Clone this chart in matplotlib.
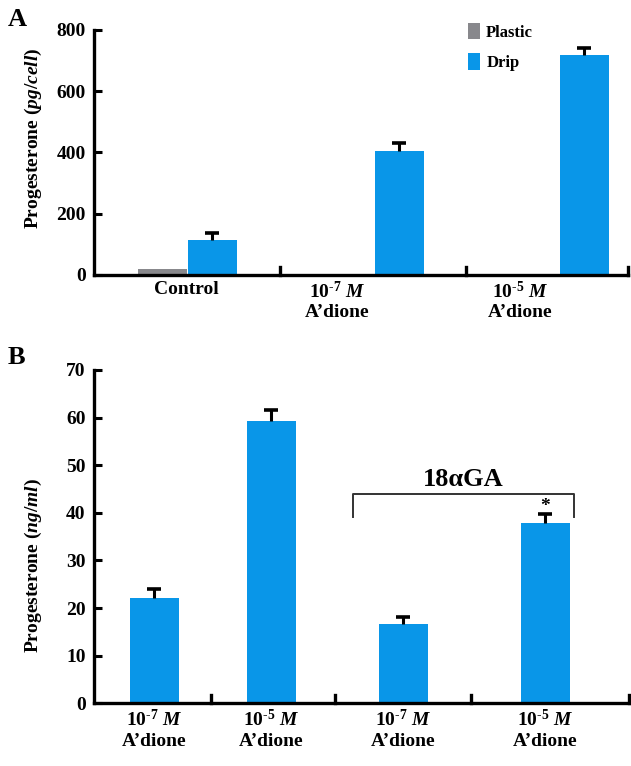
import matplotlib
matplotlib.use("Agg")
import matplotlib.pyplot as plt

plt.rcParams['font.family'] = ['Liberation Serif', 'DejaVu Serif']
plt.rcParams['font.weight'] = 'bold'
plt.rcParams['axes.labelweight'] = 'bold'
plt.rcParams['mathtext.fontset'] = 'custom'
plt.rcParams['mathtext.rm'] = 'Liberation Serif:bold'
plt.rcParams['mathtext.it'] = 'Liberation Serif:bold:italic'
plt.rcParams['mathtext.bf'] = 'Liberation Serif:bold'

BLUE = '#0996E8'
GRAY = '#88888C'

# ---------- Panel A data ----------
a_categories = ['Control', '10$^{\\text{-7}}$ $\\mathit{M}$\nA\u2019dione', '10$^{\\text{-5}}$ $\\mathit{M}$\nA\u2019dione']
a_plastic = [20]
a_drip = [115, 406, 717]
a_drip_err = [21, 25, 25]
a_yticks = [0, 200, 400, 600, 800]

# ---------- Panel B data ----------
b_categories = ['10$^{\\text{-7}}$ $\\mathit{M}$\nA\u2019dione', '10$^{\\text{-5}}$ $\\mathit{M}$\nA\u2019dione',
                '10$^{\\text{-7}}$ $\\mathit{M}$\nA\u2019dione', '10$^{\\text{-5}}$ $\\mathit{M}$\nA\u2019dione']
b_values = [22.2, 59.3, 16.6, 37.9]
b_err = [1.8, 2.2, 1.5, 1.9]
b_yticks = [0, 10, 20, 30, 40, 50, 60, 70]

# positions (in pixel-like axis units)
a_drip_x = [118, 305, 490]
a_plastic_x = [68.5]
a_label_x = [92, 243, 426]
a_sep_x = [186, 372, 534]
bw = 49
cap_half = 7

b_x = [60, 177, 309, 451]
b_sep_x = [116.5, 241, 377, 535]

fig = plt.figure(figsize=(6.31, 7.66), dpi=100)

def style(ax, xmax):
    ax.spines['top'].set_visible(False)
    ax.spines['right'].set_visible(False)
    for s in ('left', 'bottom'):
        ax.spines[s].set_linewidth(2.4)
        ax.spines[s].set_color('black')
    ax.tick_params(axis='y', direction='in', length=6, width=2.2, labelsize=14, pad=6)
    ax.tick_params(axis='x', length=0, labelsize=14, pad=4)
    ax.set_xlim(0, xmax)

def upper_err(ax, xs, vals, errs):
    tops = [v + e for v, e in zip(vals, errs)]
    ax.vlines(xs, vals, tops, colors='black', linewidth=2.2, zorder=3)
    ax.hlines(tops, [x - cap_half for x in xs], [x + cap_half for x in xs],
              colors='black', linewidth=2.6, zorder=3)

# ---------- Panel A ----------
axA = fig.add_axes([94/631, 1-275/766, 534/631, 245/766])
axA.bar(a_plastic_x, a_plastic, width=bw, color=GRAY, label='Plastic', zorder=2)
axA.bar(a_drip_x, a_drip, width=bw, color=BLUE, label='Drip', zorder=2)
upper_err(axA, a_drip_x, a_drip, a_drip_err)
axA.set_ylim(0, 800)
axA.set_yticks(a_yticks)
axA.set_xticks(a_label_x)
axA.set_xticklabels(a_categories)
style(axA, 534)
for xs in a_sep_x:
    axA.plot([xs, xs], [0, 800*8/245], color='black', lw=2.4, clip_on=False, zorder=4)
axA.set_ylabel('Progesterone ($\\mathit{pg/cell}$)', fontsize=14, fontweight='bold')
axA.yaxis.set_label_coords((44-94)/534, (275-138)/245)
leg = axA.legend(loc='upper left', bbox_to_anchor=(0.672, 1.09), frameon=False,
                 fontsize=12, handlelength=0.75, handleheight=1.15, handletextpad=0.35,
                 labelspacing=0.75)
fig.text(8/631, 1-26/766, 'A', fontsize=19, fontweight='bold')

# ---------- Panel B ----------
axB = fig.add_axes([94/631, 1-703.3/766, 535/631, 333.3/766])
axB.bar(b_x, b_values, width=bw, color=BLUE, zorder=2)
upper_err(axB, b_x, b_values, b_err)
axB.set_ylim(0, 70)
axB.set_yticks(b_yticks)
axB.set_xticks(b_x)
axB.set_xticklabels(b_categories)
style(axB, 535)
for xs in b_sep_x:
    axB.plot([xs, xs], [0, 70*8/333.3], color='black', lw=2.4, clip_on=False, zorder=4)
axB.set_ylabel('Progesterone ($\\mathit{ng/ml}$)', fontsize=14, fontweight='bold')
axB.yaxis.set_label_coords((44-94)/535, (703.3-565)/333.3)

# bracket
bx0, bx1, by_top, by_bot = 259, 480, 44.0, 39.2
axB.plot([bx0, bx0, bx1, bx1], [by_bot, by_top, by_top, by_bot], color='#333333', lw=1.4, zorder=3)
axB.text((bx0 + bx1) / 2, by_top + 0.6, '18\u03b1GA', ha='center', va='bottom', fontsize=19,
         fontweight='bold')
axB.text(b_x[3], b_values[3] + b_err[3] - 0.3, '*', ha='center', va='bottom', fontsize=14,
         fontweight='bold')
fig.text(8/631, 1-364/766, 'B', fontsize=19, fontweight='bold')

fig.savefig('out.png', dpi=100)
